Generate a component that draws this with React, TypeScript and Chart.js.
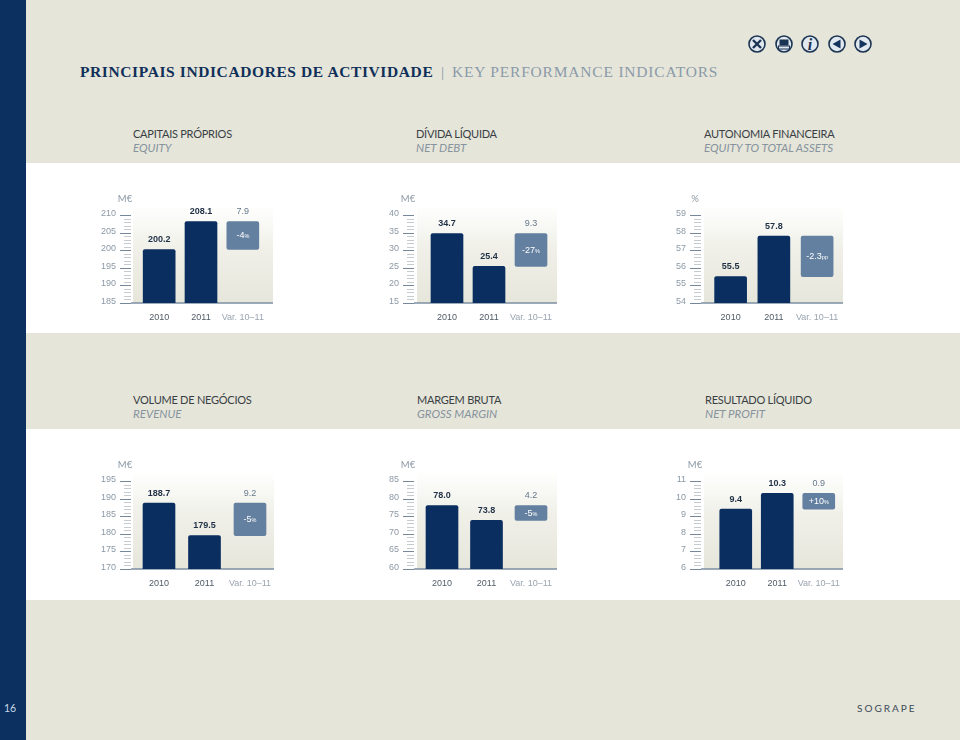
import React, { useEffect, useRef } from "react";
import { Chart, registerables } from "chart.js";

Chart.register(...registerables);

const categories = ["2010", "2011", "Var. 10–11"];

const equityValues = [200.2, 208.1];
const equityVar = [200.2, 208.1];
const debtValues = [34.7, 25.4];
const debtVar = [25.4, 34.7];
const autonomyValues = [55.5, 57.8];
const autonomyVar = [55.5, 57.8];
const revenueValues = [188.7, 179.5];
const revenueVar = [179.5, 188.7];
const marginValues = [78.0, 73.8];
const marginVar = [73.8, 78.0];
const profitValues = [9.4, 10.3];
const profitVar = [9.4, 10.3];

const FONT = "Lato, 'Open Sans', sans-serif";
const SANS = "'Liberation Sans', Arial, sans-serif";
const NAVY = "#0a2e5f";
const VARBLUE = "#6480a0";
const PAGE = "#e5e5da";
const GREY = "#8c99a5";

type Panel = {
  pt: string; en: string; headX: number; headY: number;
  unit: string; yMin: number; yMax: number; minor: number; major: number;
  values: number[]; variation: number[];
  valueText: string[]; varText: string; pct: string; suffix: string;
  tickLeft: number; axisRight: number; bgLeft: number; bgRight: number;
  plotLeft: number; plotRight: number; topY: number; baseY: number;
};

const panels: Panel[] = [
  { pt: "CAPITAIS PRÓPRIOS", en: "EQUITY", headX: 133, headY: 127, unit: "M€", yMin: 185, yMax: 210, minor: 1, major: 5,
    values: equityValues, variation: equityVar, valueText: ["200.2", "208.1"], varText: "7.9", pct: "-4", suffix: "%",
    tickLeft: 120, axisRight: 131, bgLeft: 133, bgRight: 273, plotLeft: 138.25, plotRight: 263.75, topY: 215, baseY: 303 },
  { pt: "DÍVIDA LÍQUIDA", en: "NET DEBT", headX: 416, headY: 127, unit: "M€", yMin: 15, yMax: 40, minor: 1, major: 5,
    values: debtValues, variation: debtVar, valueText: ["34.7", "25.4"], varText: "9.3", pct: "-27", suffix: "%",
    tickLeft: 403, axisRight: 414, bgLeft: 417, bgRight: 557, plotLeft: 426, plotRight: 552, topY: 215, baseY: 303 },
  { pt: "AUTONOMIA FINANCEIRA", en: "EQUITY TO TOTAL ASSETS", headX: 704, headY: 127, unit: "%", yMin: 54, yMax: 59, minor: 0.2, major: 1,
    values: autonomyValues, variation: autonomyVar, valueText: ["55.5", "57.8"], varText: "", pct: "-2.3", suffix: "pp",
    tickLeft: 690, axisRight: 701, bgLeft: 704, bgRight: 843, plotLeft: 709, plotRight: 838.75, topY: 215, baseY: 303 },
  { pt: "VOLUME DE NEGÓCIOS", en: "REVENUE", headX: 133, headY: 393, unit: "M€", yMin: 170, yMax: 195, minor: 1, major: 5,
    values: revenueValues, variation: revenueVar, valueText: ["188.7", "179.5"], varText: "9.2", pct: "-5", suffix: "%",
    tickLeft: 120, axisRight: 131, bgLeft: 133, bgRight: 274, plotLeft: 136.25, plotRight: 272.75, topY: 481, baseY: 569 },
  { pt: "MARGEM BRUTA", en: "GROSS MARGIN", headX: 417, headY: 393, unit: "M€", yMin: 60, yMax: 85, minor: 1, major: 5,
    values: marginValues, variation: marginVar, valueText: ["78.0", "73.8"], varText: "4.2", pct: "-5", suffix: "%",
    tickLeft: 403, axisRight: 414, bgLeft: 417, bgRight: 557, plotLeft: 419.75, plotRight: 553.25, topY: 481, baseY: 569 },
  { pt: "RESULTADO LÍQUIDO", en: "NET PROFIT", headX: 705, headY: 393, unit: "M€", yMin: 6, yMax: 11, minor: 0.2, major: 1,
    values: profitValues, variation: profitVar, valueText: ["9.4", "10.3"], varText: "0.9", pct: "+10", suffix: "%",
    tickLeft: 690, axisRight: 701, bgLeft: 704, bgRight: 843, plotLeft: 715, plotRight: 839.5, topY: 481, baseY: 569 },
];

function MiniChart({ p }: { p: Panel }) {
  const ref = useRef<HTMLCanvasElement>(null);
  const canvasLeft = p.tickLeft - 30;
  const canvasRight = p.bgRight + 4;
  const canvasTop = p.topY - 30;
  const canvasBottom = p.baseY + 30;

  useEffect(() => {
    const decorate = {
      id: "decorate",
      beforeDatasetsDraw(chart: any) {
        const c = chart.ctx;
        const ca = chart.chartArea;
        const off = p.bgLeft - canvasLeft;
        const r = p.bgRight - canvasLeft;
        const g = c.createLinearGradient(0, ca.top - 10, 0, ca.bottom);
        g.addColorStop(0, "#ffffff");
        g.addColorStop(0.45, "#f0f0e9");
        g.addColorStop(1, "#e6e6db");
        c.fillStyle = g;
        c.fillRect(off, ca.top - 10, r - off, ca.bottom - ca.top + 10);
        const sc = chart.scales.y;
        c.textAlign = "right";
        c.textBaseline = "middle";
        c.font = `9px ${SANS}`;
        sc.ticks.forEach((t: any, i: number) => {
          const y = Math.round(sc.getPixelForTick(i)) + 0.5;
          const isMajor = t.label !== "";
          c.strokeStyle = isMajor ? "#76879a" : "#c6cbcf";
          c.lineWidth = 1;
          c.beginPath();
          c.moveTo((isMajor ? p.tickLeft : p.tickLeft + 4) - canvasLeft, y);
          c.lineTo(p.axisRight - canvasLeft, y);
          c.stroke();
          if (isMajor) {
            c.fillStyle = GREY;
            c.fillText(t.label, p.tickLeft - 4 - canvasLeft, y - 2);
          }
        });
        c.strokeStyle = "#7c8ea3";
        c.lineWidth = 1.5;
        c.beginPath();
        c.moveTo(p.axisRight - canvasLeft, ca.bottom);
        c.lineTo(r, ca.bottom);
        c.stroke();
      },
      afterDatasetsDraw(chart: any) {
        const c = chart.ctx;
        const meta = chart.getDatasetMeta(0).data;
        c.textAlign = "center";
        c.textBaseline = "middle";
        c.fillStyle = "#1f3045";
        c.font = `bold 9px ${SANS}`;
        p.valueText.forEach((t, i) => c.fillText(t, meta[i].x, meta[i].y - 10));
        const v = meta[2];
        if (p.varText) {
          c.fillStyle = "#66798c";
          c.font = `9px ${SANS}`;
          c.fillText(p.varText, v.x, v.y - 10);
        }
        const cy = (v.y + v.base) / 2;
        c.font = `9px ${SANS}`;
        const w1 = c.measureText(p.pct).width;
        c.font = `5.5px ${SANS}`;
        const w2 = c.measureText(p.suffix).width;
        const sx = v.x - (w1 + w2) / 2;
        c.textAlign = "left";
        c.fillStyle = "#ffffff";
        c.font = `9px ${SANS}`;
        c.fillText(p.pct, sx, cy);
        c.font = `5.5px ${SANS}`;
        c.fillText(p.suffix, sx + w1, cy + 1);
        c.fillStyle = GREY;
        c.font = `9.5px ${FONT}`;
        c.textAlign = "center";
        c.fillText(p.unit, p.tickLeft + 5 - canvasLeft, 14);
      },
    };

    const chart = new Chart(ref.current!, {
      type: "bar",
      data: {
        labels: categories,
        datasets: [
          {
            data: [p.values[0], p.values[1], p.variation] as any,
            backgroundColor: [NAVY, NAVY, VARBLUE],
            borderRadius: 2,
            borderSkipped: false,
            barThickness: 32,
          },
        ],
      },
      options: {
        animation: false,
        responsive: false,
        maintainAspectRatio: false,
        layout: { padding: { top: 30, right: canvasRight - p.plotRight, left: 0, bottom: 0 } },
        plugins: { legend: { display: false }, tooltip: { enabled: false }, title: { display: false } },
        scales: {
          x: {
            afterFit: (s: any) => { s.height = 30; s.paddingLeft = 0; s.paddingRight = 0; },
            grid: { display: false },
            border: { display: false },
            ticks: {
              autoSkip: false,
              maxRotation: 0,
              padding: 1,
              font: { family: SANS, size: 9 },
              color: (ctx: any) => (ctx.index === 2 ? "#9aa5b0" : "#4f5b66"),
            },
          },
          y: {
            min: p.yMin,
            max: p.yMax,
            afterFit: (s: any) => { s.width = p.plotLeft - canvasLeft; },
            grid: { drawOnChartArea: false, drawTicks: false },
            border: { display: false },
            ticks: {
              stepSize: p.minor,
              autoSkip: false,
              color: "rgba(0,0,0,0)",
              font: { family: SANS, size: 9 },
              callback: (val: any) => {
                const n = Number(val) / p.major;
                return Math.abs(n - Math.round(n)) < 1e-6 ? String(Math.round(Number(val))) : "";
              },
            },
          },
        },
      },
      plugins: [decorate],
    } as any);
    return () => chart.destroy();
  }, []);

  return (
    <canvas
      ref={ref}
      width={canvasRight - canvasLeft}
      height={canvasBottom - canvasTop}
      style={{
        position: "absolute",
        left: canvasLeft,
        top: canvasTop,
        width: canvasRight - canvasLeft,
        height: canvasBottom - canvasTop,
      }}
    />
  );
}

const ICON = { stroke: "#1b3452", fill: "#e2e8ef" };

function Icons() {
  const xs = [757, 784, 810, 837, 863];
  return (
    <svg width={960} height={90} style={{ position: "absolute", left: 0, top: 0 }}>
      {xs.map((x) => (
        <circle key={x} cx={x} cy={44} r={8} fill={ICON.fill} stroke={ICON.stroke} strokeWidth={1.6} />
      ))}
      <path d="M753 40 L761 48 M761 40 L753 48" stroke={ICON.stroke} strokeWidth={2.4} />
      <rect x={779.5} y={39.5} width={9} height={6} fill={ICON.stroke} />
      <rect x={778.5} y={46} width={11} height={3} fill="#e2e8ef" stroke={ICON.stroke} strokeWidth={1} />
      <text x={810} y={49.5} textAnchor="middle" fontFamily="'Liberation Serif'" fontStyle="italic" fontWeight="bold" fontSize={16} fill={ICON.stroke}>i</text>
      <path d="M832.5 44 L840.5 39.5 L840.5 48.5 Z" fill="#14335f" />
      <path d="M867.5 44 L859.5 39.5 L859.5 48.5 Z" fill="#14335f" />
    </svg>
  );
}

export default function App() {
  useEffect(() => {
    document.body.style.margin = "0";
  }, []);
  const abs = (left: number, top: number, extra: React.CSSProperties = {}): React.CSSProperties => ({
    position: "absolute",
    left,
    top,
    whiteSpace: "nowrap",
    ...extra,
  });
  const serif = "'Liberation Serif', serif";
  return (
    <div style={{ position: "absolute", left: 0, top: 0, width: 960, height: 740, background: PAGE, overflow: "hidden", fontFamily: FONT }}>
      <div style={abs(0, 0, { width: 26, height: 740, background: "#0c3161" })} />
      <div style={abs(26, 163, { width: 934, height: 170, background: "#fff" })} />
      <div style={abs(26, 429, { width: 934, height: 171, background: "#fff" })} />
      <Icons />
      <div style={abs(80, 62, { fontFamily: serif, fontSize: 15.5, lineHeight: "20px", letterSpacing: 0.6, color: "#0f2f58", fontWeight: "bold" })}>
        PRINCIPAIS INDICADORES DE ACTIVIDADE
      </div>
      <div style={abs(441, 62, { fontFamily: serif, fontSize: 15.5, lineHeight: "20px", color: "#8b9aa8" })}>|</div>
      <div style={abs(452, 62, { fontFamily: serif, fontSize: 15.5, lineHeight: "20px", letterSpacing: 0.8, color: "#8b9aa8" })}>
        KEY PERFORMANCE INDICATORS
      </div>
      {panels.map((p) => (
        <React.Fragment key={p.pt}>
          <div style={abs(p.headX, p.headY, { fontSize: 11, lineHeight: "14px", letterSpacing: -0.25, color: "#3a3f44" })}>{p.pt}</div>
          <div style={abs(p.headX, p.headY + 14, { fontSize: 11.5, lineHeight: "14px", color: "#87939d", fontStyle: "italic" })}>{p.en}</div>
          <MiniChart p={p} />
        </React.Fragment>
      ))}
      <div style={abs(4, 702, { fontSize: 10.5, lineHeight: "13px", color: "#c9d8e8" })}>16</div>
      <div style={abs(857, 702, { fontSize: 10, lineHeight: "13px", letterSpacing: 2, color: "#3c4a57" })}>SOGRAPE</div>
    </div>
  );
}
